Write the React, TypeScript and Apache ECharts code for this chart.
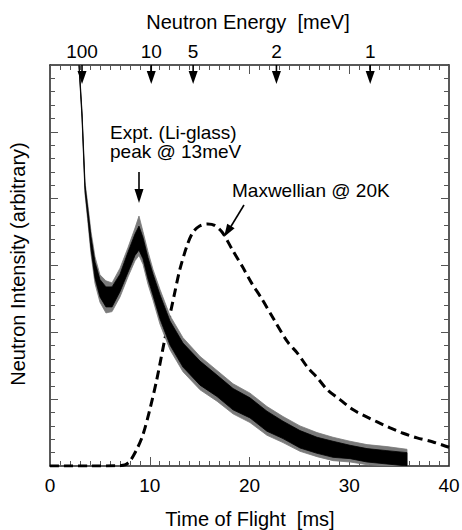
import React, { useEffect, useRef } from "react";
import * as echarts from "echarts";

const FONT = '"Liberation Sans", Arial, Helvetica, sans-serif';

const expTof = [2.85, 2.91, 3.21, 3.51, 3.81, 4.11, 4.51, 5.01, 5.61, 6.22, 7.02, 7.82, 8.52, 8.92, 9.32, 9.82, 10.33, 11.03, 12.03, 13.33, 15.04, 16.74, 18.35, 20.05, 21.75, 23.36, 25.06, 26.77, 28.37, 30.08, 31.78, 33.78, 35.79];
// dense core of the noise band
const expLower = [6.13, 5.98, 5.22, 4.12, 3.70, 3.25, 2.81, 2.53, 2.38, 2.38, 2.61, 2.90, 3.15, 3.23, 3.10, 2.80, 2.55, 2.20, 1.81, 1.48, 1.21, 1.04, 0.84, 0.72, 0.52, 0.41, 0.27, 0.19, 0.13, 0.11, 0.06, 0.03, 0.0];
const expUpper = [6.17, 6.02, 5.28, 4.20, 3.82, 3.43, 3.05, 2.79, 2.68, 2.68, 2.87, 3.20, 3.47, 3.59, 3.42, 3.12, 2.87, 2.56, 2.17, 1.84, 1.57, 1.36, 1.16, 1.02, 0.82, 0.67, 0.53, 0.43, 0.37, 0.31, 0.26, 0.23, 0.20];
// extent of the grey noise spikes
const expSpikeLower = [6.11, 5.96, 5.19, 4.07, 3.63, 3.17, 2.73, 2.45, 2.29, 2.31, 2.53, 2.83, 3.07, 3.15, 3.02, 2.72, 2.48, 2.12, 1.74, 1.41, 1.14, 0.97, 0.78, 0.65, 0.46, 0.35, 0.22, 0.14, 0.08, 0.06, 0.02, 0.0, 0.0];
const expSpikeUpper = [6.19, 6.05, 5.31, 4.25, 3.89, 3.51, 3.13, 2.86, 2.77, 2.74, 2.96, 3.27, 3.56, 3.74, 3.51, 3.21, 2.94, 2.64, 2.25, 1.92, 1.64, 1.43, 1.23, 1.09, 0.89, 0.74, 0.60, 0.50, 0.43, 0.37, 0.32, 0.29, 0.25];

// Maxwellian @ 20K (dashed)
const maxTof = [0, 4, 7, 7.5, 8.0, 8.7, 9.3, 10.0, 10.7, 11.5, 12.5, 13.0, 13.7, 14.3, 15.0, 15.8, 16.5, 17.3, 18.3, 19.3, 20.2, 21.2, 22.5, 23.8, 24.8, 25.8, 26.8, 27.8, 29.1, 30.4, 31.8, 32.8, 34.1, 35.4, 36.8, 38.4, 40.0];
const maxVal = [0, 0, 0.005, 0.015, 0.07, 0.25, 0.46, 0.84, 1.29, 1.89, 2.59, 2.93, 3.28, 3.49, 3.59, 3.62, 3.6, 3.49, 3.23, 2.98, 2.74, 2.51, 2.18, 1.86, 1.69, 1.48, 1.32, 1.14, 0.99, 0.84, 0.73, 0.66, 0.57, 0.49, 0.42, 0.36, 0.28];

// Top energy scale markers
const energyLabels = ["100", "10", "5", "2", "1"];
const energyTof = [3.21, 10.15, 14.35, 22.7, 32.1];

const GRID = { left: 50, top: 65, right: 13, bottom: 64 };
const frameColor = "#222";
const tickColor = "#555";

function bandSeries(name: string, lower: number[], upper: number[], color: string, z: number): any {
  return {
    type: "custom",
    name,
    xAxisIndex: 0,
    yAxisIndex: 0,
    clip: true,
    silent: true,
    data: [[0, 0]],
    renderItem: (params: any, api: any) => {
      const top = expTof.map((t, i) => api.coord([t, upper[i]]));
      const bot = expTof.map((t, i) => api.coord([t, lower[i]])).reverse();
      const cs = params.coordSys;
      return {
        type: "polygon",
        shape: { points: top.concat(bot) },
        style: { fill: color, stroke: color, lineWidth: 0.8 },
        clipPath: { type: "rect", shape: { x: cs.x, y: cs.y, width: cs.width, height: cs.height } },
      };
    },
    z,
  };
}

function buildOption(): any {
  const xBase = {
    type: "value",
    min: 0,
    max: 40,
    interval: 10,
    axisLine: { show: true, onZero: false, lineStyle: { color: frameColor, width: 1.5 } },
    axisTick: { show: true, inside: true, length: 9, lineStyle: { color: tickColor, width: 1 } },
    minorTick: { show: true, splitNumber: 10, length: 5, lineStyle: { color: tickColor, width: 1 } },
    splitLine: { show: false },
    minorSplitLine: { show: false },
  };
  const yBase = {
    type: "value",
    min: 0,
    max: 6,
    interval: 1,
    axisLine: { show: true, onZero: false, lineStyle: { color: frameColor, width: 1.5 } },
    axisTick: { show: true, inside: true, length: 8, lineStyle: { color: tickColor, width: 1 } },
    minorTick: { show: true, splitNumber: 5, length: 5, lineStyle: { color: tickColor, width: 1 } },
    axisLabel: { show: false },
    splitLine: { show: false },
    minorSplitLine: { show: false },
  };
  return {
    animation: false,
    backgroundColor: "#fff",
    grid: { ...GRID, containLabel: false, outerBoundsMode: "none" },
    xAxis: [
      {
        ...xBase,
        position: "bottom",
        axisLabel: { show: true, color: "#000", fontSize: 19, fontFamily: FONT, margin: 10 },
      },
      {
        ...xBase,
        position: "top",
        axisLabel: { show: false },
      },
    ],
    yAxis: [
      { ...yBase, position: "left" },
      { ...yBase, position: "right" },
    ],
    series: [
      {
        type: "line",
        name: "Maxwellian",
        xAxisIndex: 0,
        yAxisIndex: 0,
        data: maxTof.map((t, i) => [t, maxVal[i]]),
        symbol: "none",
        smooth: 0.3,
        clip: true,
        lineStyle: { color: "#000", width: 3, type: [9, 5] },
        z: 2,
      },
      bandSeries("Expt spikes", expSpikeLower, expSpikeUpper, "#7a7a7a", 3),
      bandSeries("Expt", expLower, expUpper, "#000", 4),
      {
        type: "custom",
        name: "energy",
        xAxisIndex: 0,
        yAxisIndex: 0,
        clip: false,
        silent: true,
        data: energyTof.map((t) => [t, 6]),
        renderItem: (params: any, api: any) => {
          const p = api.coord([api.value(0), api.value(1)]);
          const x = p[0];
          const y = p[1];
          return {
            type: "group",
            children: [
              {
                type: "line",
                shape: { x1: x, y1: y, x2: x, y2: y + 7 },
                style: { stroke: "#000", lineWidth: 1.6 },
              },
              {
                type: "polygon",
                shape: { points: [[x - 4.5, y + 6], [x + 4.5, y + 6], [x, y + 19]] },
                style: { fill: "#000" },
              },
              {
                type: "text",
                x: x,
                y: y - 13.5,
                style: {
                  text: energyLabels[params.dataIndex],
                  align: "center",
                  verticalAlign: "middle",
                  font: `19px ${FONT}`,
                  fill: "#000",
                },
              },
            ],
          };
        },
        z: 5,
      },
    ],
    graphic: [
      {
        type: "text",
        x: 248,
        y: 21.5,
        style: { text: "Neutron Energy  [meV]", align: "center", verticalAlign: "middle", font: `20px ${FONT}`, fill: "#000" },
      },
      {
        type: "text",
        x: 250,
        y: 518.5,
        style: { text: "Time of Flight  [ms]", align: "center", verticalAlign: "middle", font: `20px ${FONT}`, fill: "#000" },
      },
      {
        type: "text",
        x: 17.5,
        y: 264,
        rotation: Math.PI / 2,
        style: { text: "Neutron Intensity (arbitrary)", align: "center", verticalAlign: "middle", font: `20px ${FONT}`, fill: "#000" },
      },
      {
        type: "text",
        x: 110,
        y: 132.5,
        style: { text: "Expt. (Li-glass)", align: "left", verticalAlign: "middle", font: `19px ${FONT}`, fill: "#000" },
      },
      {
        type: "text",
        x: 110,
        y: 151.5,
        style: { text: "peak @ 13meV", align: "left", verticalAlign: "middle", font: `19px ${FONT}`, fill: "#000" },
      },
      {
        type: "text",
        x: 232,
        y: 190,
        style: { text: "Maxwellian @ 20K", align: "left", verticalAlign: "middle", font: `19px ${FONT}`, fill: "#000" },
      },
      {
        type: "line",
        shape: { x1: 139, y1: 172, x2: 139, y2: 191 },
        style: { stroke: "#000", lineWidth: 1.6 },
      },
      {
        type: "polygon",
        shape: { points: [[134.5, 189], [143.5, 189], [139, 203]] },
        style: { fill: "#000" },
      },
      {
        type: "line",
        shape: { x1: 244, y1: 205, x2: 230, y2: 228 },
        style: { stroke: "#000", lineWidth: 1.6 },
      },
      {
        type: "polygon",
        shape: { points: [[234.6, 228.3], [227.2, 223.7], [224, 237]] },
        style: { fill: "#000" },
      },
    ],
  };
}

export default function App() {
  const ref = useRef<HTMLDivElement>(null);
  useEffect(() => {
    if (!ref.current) return;
    const chart = echarts.init(ref.current, null, { renderer: "svg", width: 462, height: 530 });
    chart.setOption(buildOption());
    return () => chart.dispose();
  }, []);
  return (
    <div
      ref={ref}
      style={{ position: "fixed", left: 0, top: 0, width: 462, height: 530, background: "#fff" }}
    />
  );
}
